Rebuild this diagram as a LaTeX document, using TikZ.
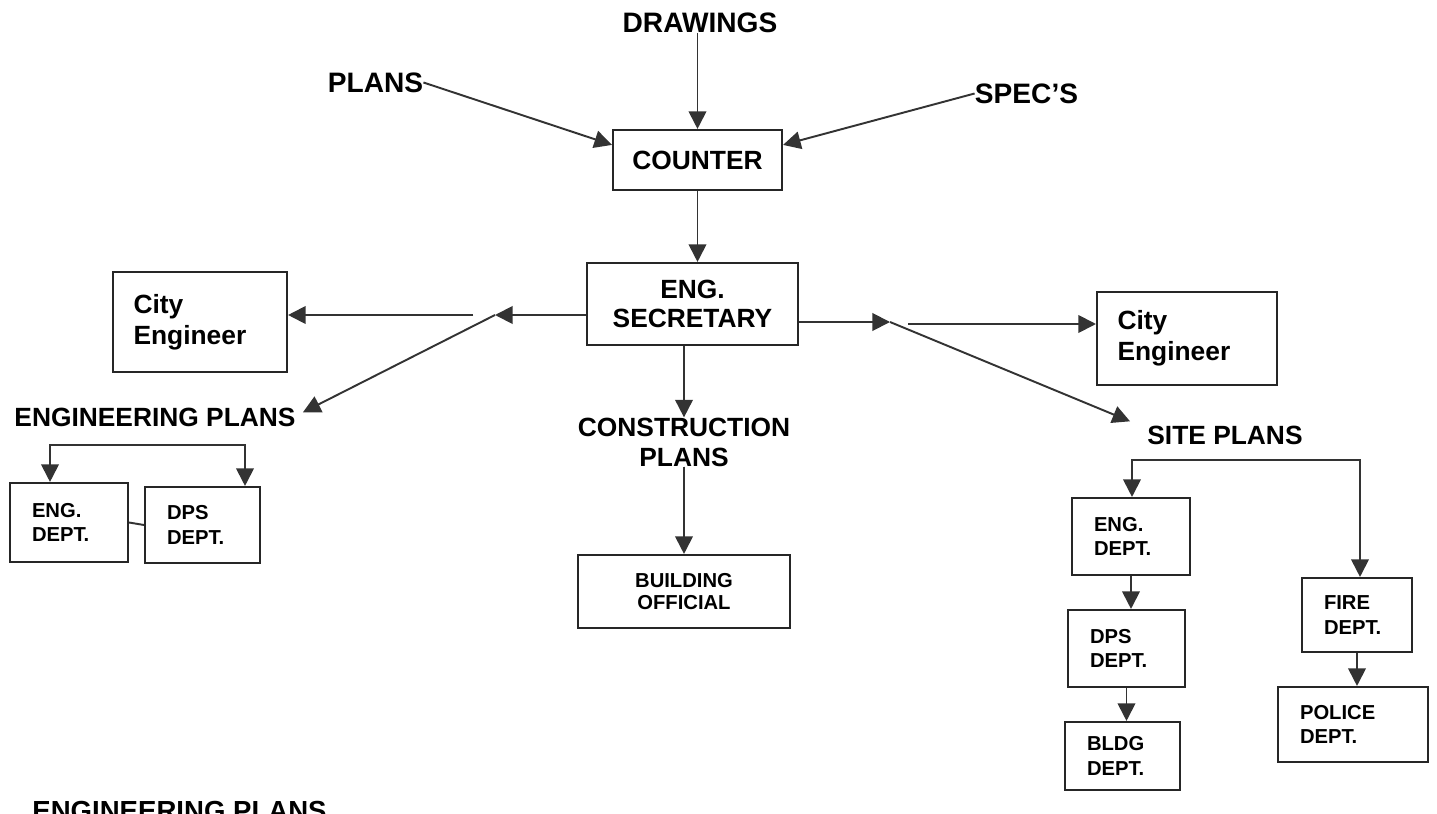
\documentclass[tikz,border=0pt]{standalone}
\usepackage{fontspec}
\setmainfont{Liberation Sans}
\usepackage{tikz}
\usetikzlibrary{arrows.meta}

\begin{document}
\begin{tikzpicture}[x=0.02cm, y=-0.02cm,
	box/.style={draw=black!85, line width=1.2pt, fill=white, inner sep=0pt, align=center},
	big/.style={font=\bfseries\fontsize{15}{16.5}\selectfont},
	toplbl/.style={inner sep=0pt, font=\bfseries\fontsize{16}{18}\selectfont},
	lbl/.style={inner sep=0pt, align=center, font=\bfseries\fontsize{15}{17}\selectfont},
	ceng/.style={box, align=left, inner xsep=0.41cm, font=\bfseries\fontsize{15}{17.5}\selectfont},
	dept/.style={box, align=left, inner xsep=0.44cm, font=\bfseries\fontsize{11.5}{14}\selectfont},
	arr/.style={-{Triangle[length=10pt,width=10pt]}, line width=1.1pt, draw=black!80, fill=black!75},
	arrs/.style={{Triangle[length=10pt,width=10pt]}-{Triangle[length=10pt,width=10pt]}, line width=1.1pt, draw=black!80, fill=none}]
	\useasboundingbox (0,0) rectangle (1437,814);
	\clip (0,0) rectangle (1437,814);

	\node[toplbl] (drawings) at (700,23) {DRAWINGS};
	\node[toplbl] (plans) at (375.5,82.5) {PLANS};
	\node[toplbl] (specs) at (1026.5,93.5) {SPEC’S};
	\node[box, big, minimum width=3.38cm, minimum height=1.2cm] (counter) at (697.5,160) {COUNTER};
	\node[box, big, minimum width=4.22cm, minimum height=1.64cm] (engsec) at (692.5,304) {ENG.\\SECRETARY};

	\node[ceng, text width=2.66cm, minimum height=2cm] (ceL) at (200,322) {City\\Engineer};
	\node[ceng, text width=2.78cm, minimum height=1.86cm] (ceR) at (1187,338.5) {City\\Engineer};

	\node[lbl] (engplans) at (155,417) {ENGINEERING PLANS};
	\node[dept, text width=1.48cm, minimum height=1.58cm] (engL) at (69,522.5) {ENG.\\DEPT.};
	\node[dept, text width=1.42cm, minimum height=1.52cm] (dpsL) at (202.5,525) {DPS\\DEPT.};

	\node[lbl] (constr) at (684,442) {CONSTRUCTION\\PLANS};
	\node[box, minimum width=4.24cm, minimum height=1.46cm, font=\bfseries\fontsize{11.5}{13}\selectfont] (bldgoff) at (684,591.5) {BUILDING\\OFFICIAL};

	\node[lbl] (siteplans) at (1225,435) {SITE PLANS};
	\node[dept, text width=1.48cm, minimum height=1.54cm] (engR) at (1131,536.5) {ENG.\\DEPT.};
	\node[dept, text width=1.46cm, minimum height=1.54cm] (dpsR) at (1126.5,648.5) {DPS\\DEPT.};
	\node[dept, text width=1.42cm, minimum height=1.36cm] (bldgR) at (1122.5,756) {BLDG\\DEPT.};
	\node[dept, text width=1.32cm, minimum height=1.48cm] (fire) at (1357,615) {FIRE\\DEPT.};
	\node[dept, text width=2.12cm, minimum height=1.5cm] (police) at (1353,724.5) {POLICE\\DEPT.};

	\node[lbl, font=\bfseries\fontsize{15.7}{18}\selectfont, anchor=base west] (engplansb) at (32,820) {ENGINEERING PLANS};
	\node[lbl, anchor=base west, text=black!20] (siteplansb) at (795,834) {SITE PLANS};

	\coordinate (jl) at (495,315);
	\coordinate (jlh) at (473,315);
	\coordinate (jr) at (890,322);
	\coordinate (jrh) at (908,324);
	\coordinate (eL) at (50,445);
	\coordinate (eR) at (245,445);
	\coordinate (sL) at (1132,460);
	\coordinate (sR) at (1360,460);

	\draw[arr] (counter.north |- drawings.south) -- (counter.north);
	\draw[arr] (plans.east) -- (counter.170);
	\draw[arr] (specs.west) -- (counter.10);
	\draw[arr] (counter.south) -- (counter.south |- engsec.north);

	\draw[arr] (engsec.west |- jl) -- (jl);
	\draw[arr] (jlh) -- (jlh -| ceL.east);
	\draw[arr] (jl) -- ([shift={(7,5)}]engplans.north east);
	\draw[arr] (engsec.east |- jr) -- (jr);
	\draw[arr] (jrh) -- (jrh -| ceR.west);
	\draw[arr] (jr) -- ([shift={(-17,-4)}]siteplans.north west);

	\draw[arr] (constr.north |- engsec.south) -- (constr.north);
	\draw[arr] (constr.south) -- (bldgoff.north);

	\draw[arrs] (eL |- engL.north) -- (eL) -- (eR) -- (eR |- dpsL.north);
	\draw[line width=1.1pt, draw=black!80] (engL.east) -- (dpsL.west);

	\draw[arrs] (sL |- engR.north) -- (sL) -- (sR) -- (sR |- fire.north);
	\draw[arr] (engR.south) -- (engR.south |- dpsR.north);
	\draw[arr] (dpsR.south) -- (dpsR.south |- bldgR.north);
	\draw[arr] (fire.south) -- (fire.south |- police.north);
\end{tikzpicture}
\end{document}
